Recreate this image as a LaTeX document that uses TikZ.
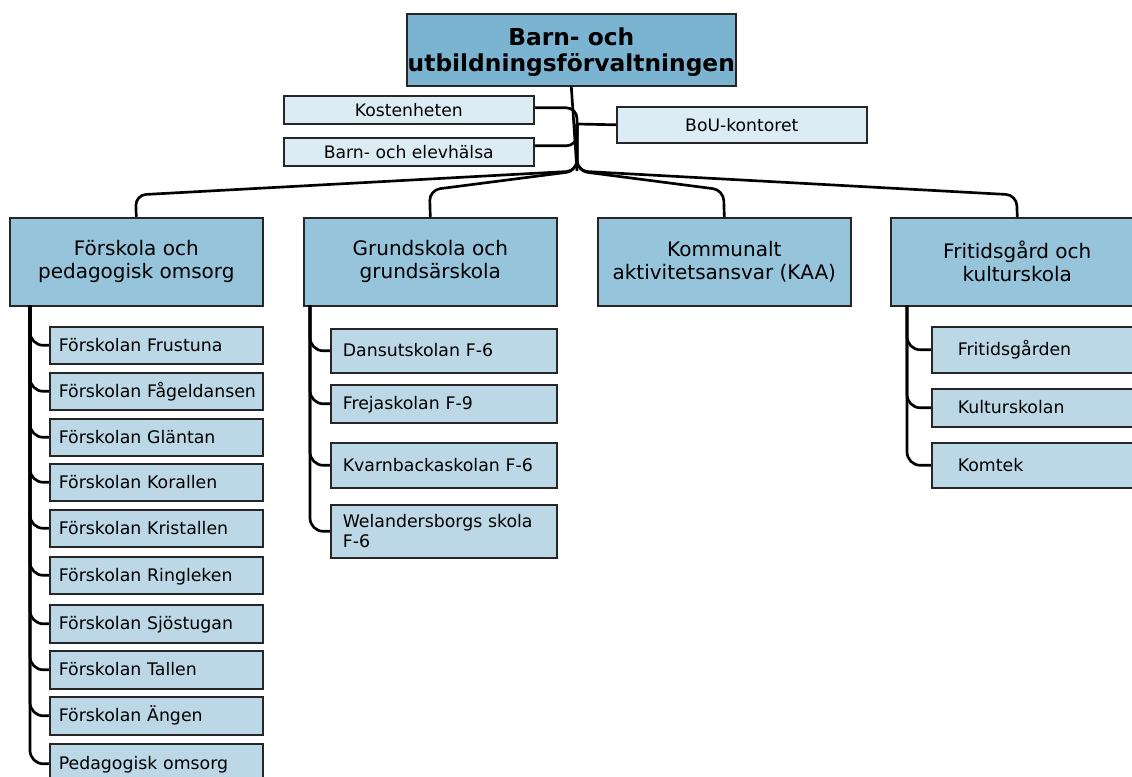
\documentclass[tikz,border=0pt]{standalone}
\usepackage{fontspec}
\setmainfont{DejaVu Sans}
\hyphenpenalty=10000
\exhyphenpenalty=10000
\hbadness=10000
\hfuzz=100pt
\definecolor{topc}{RGB}{122,180,209}
\definecolor{hdrc}{RGB}{150,196,218}
\definecolor{chc}{RGB}{188,216,230}
\definecolor{stc}{RGB}{219,236,244}
\begin{document}
\begin{tikzpicture}[x=0.75pt,y=-0.75pt,
 box/.style={draw=black!85, line width=1.2pt, inner sep=0pt, anchor=north west},
 titlebox/.style={box, fill=topc, minimum width=246.75pt, minimum height=54pt},
 titletext/.style={align=center, inner sep=0pt, font=\bfseries\fontsize{17.5}{19.5}\selectfont},
 hdr/.style={box, fill=hdrc, align=center, font=\fontsize{15}{17.25}\selectfont, minimum width=189.75pt, minimum height=66pt},
 staff/.style={box, fill=stc, font=\fontsize{12.9}{15}\selectfont, minimum width=187.5pt, minimum height=21pt, text height=0.95em, text depth=0pt},
 chbase/.style={box, fill=chc, font=\fontsize{13}{15}\selectfont, align=left, text height=0.9em, text depth=0pt},
 fchild/.style={chbase, minimum width=159.75pt, text width=146.25pt},
 gchild/.style={chbase, minimum width=169.5pt, text width=151.5pt},
 rchild/.style={chbase, minimum width=165pt, text width=126pt},
 conn/.style={line width=2pt, rounded corners=8pt},
 cconn/.style={line width=2pt, rounded corners=10pt}
]
\useasboundingbox (0,0) rectangle (1132,776);
\clip (0,0) rectangle (1132,776);

% top
\node[titlebox] (t) at (406,13) {};
\node[titletext] (tt) at ([yshift=-2pt]t.center) {Barn- och\\utbildningsförvaltningen};
\node[staff] (kost) at (283,95) {Kostenheten};
\node[staff] (barn) at (283,137) {Barn- och elevhälsa};
\node[staff, minimum height=27pt] (bou) at (616,106) {BoU-kontoret};

% headers
\node[hdr] (hF) at (9,217) {Förskola och\\pedagogisk omsorg};
\node[hdr] (hG) at (303,217) {Grundskola och\\grundsärskola};
\node[hdr] (hK) at (597,217) {Kommunalt\\aktivitetsansvar (KAA)};
\node[hdr] (hR) at (890,217) {Fritidsgård och\\kulturskola};

% Förskola children
\node[fchild, minimum height=27.75pt] (f1) at (49,326) {Förskolan Frustuna};
\node[fchild, minimum height=27.75pt] (f2) at (49,372) {\mbox{Förskolan Fågeldansen}};
\node[fchild, minimum height=27.75pt] (f3) at (49,418) {Förskolan Gläntan};
\node[fchild, minimum height=27.75pt] (f4) at (49,463) {Förskolan Korallen};
\node[fchild, minimum height=27.75pt] (f5) at (49,509) {Förskolan Kristallen};
\node[fchild, minimum height=27.75pt] (f6) at (49,556) {Förskolan Ringleken};
\node[fchild, minimum height=28.5pt] (f7) at (49,604) {Förskolan Sjöstugan};
\node[fchild, minimum height=28.5pt] (f8) at (49,650) {Förskolan Tallen};
\node[fchild, minimum height=28.5pt] (f9) at (49,696) {Förskolan Ängen};
\node[fchild, minimum height=30pt] (f10) at (49,743) {Pedagogisk omsorg};

% Grundskola children
\node[gchild, minimum height=33pt] (g1) at (330,328) {Dansutskolan F-6};
\node[gchild, minimum height=28.5pt] (g2) at (330,384) {Frejaskolan F-9};
\node[gchild, minimum height=33.75pt] (g3) at (330,442) {Kvarnbackaskolan F-6};
\node[gchild, minimum height=39.75pt, text height=, text depth=] (g4) at (330,504) {Welandersborgs skola\\F-6};

% Fritid children
\node[rchild, minimum height=34.5pt] (r1) at (931,326) {Fritidsgården};
\node[rchild, minimum height=28.5pt] (r2) at (931,388) {Kulturskolan};
\node[rchild, minimum height=33.75pt] (r3) at (931,442) {Komtek};

% coordinates
\coordinate (jn) at (577,124);
\coordinate (hub) at (577,171);
\coordinate (bF) at (135.5,195);
\coordinate (bG) at (429.5,190);
\coordinate (bK) at (723.5,190);
\coordinate (bR) at (1016.5,195);
\coordinate (vF) at (30,305);
\coordinate (vG) at (310,305);
\coordinate (vR) at (907,305);

% top connectors
\draw[conn] (t.south) -- (hub);
\draw[conn] ([yshift=1.5pt]kost.east) -| (jn);
\draw[conn] ([yshift=4.5pt]barn.east) -| (jn);
\draw[conn] (jn) -- (bou.west);
\draw[conn] (jn) -- (hub) -- (bF) -- (hF.north);
\draw[conn] (jn) -- (hub) -- (bG) -- (hG.north);
\draw[conn] (jn) -- (hub) -- (bK) -- (hK.north);
\draw[conn] (jn) -- (hub) -- (bR) -- (hR.north);

% child connectors
\foreach \c in {f1,f2,f3,f4,f5,f6,f7,f8,f9,f10} \draw[cconn] (vF) |- (\c.west);
\foreach \c in {g1,g2,g3,g4} \draw[cconn] (vG) |- (\c.west);
\foreach \c in {r1,r2,r3} \draw[cconn] (vR) |- (\c.west);
\end{tikzpicture}
\end{document}
